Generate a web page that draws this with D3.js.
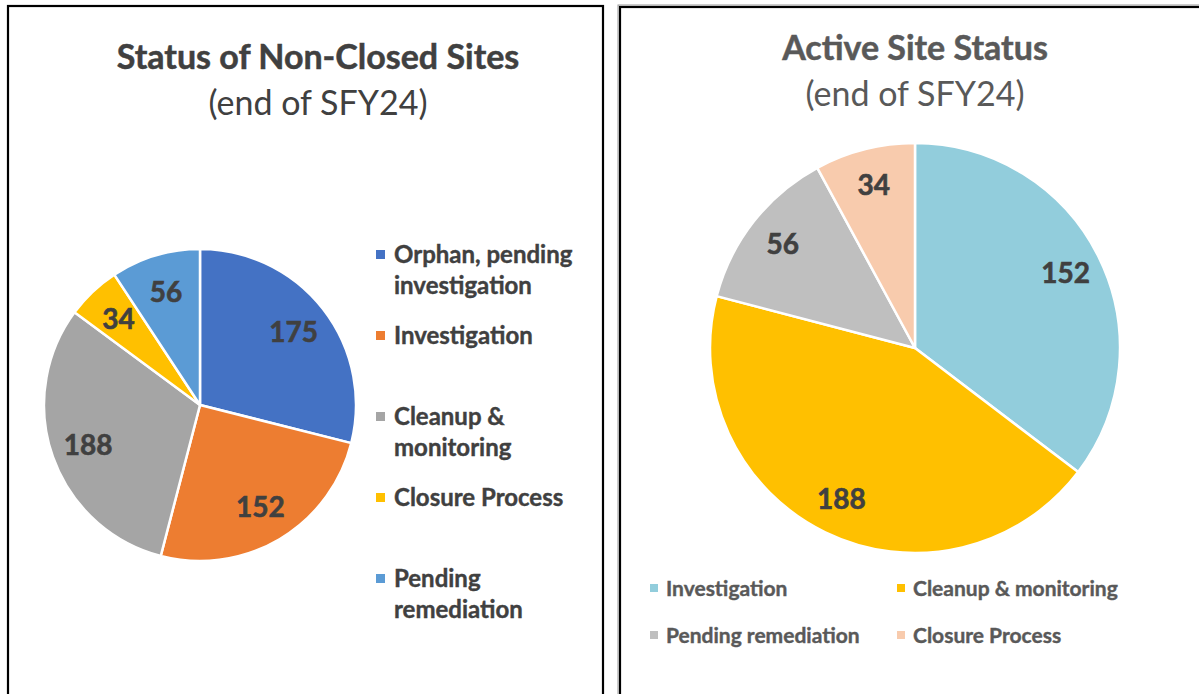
<!DOCTYPE html>
<html><head><meta charset="utf-8">
<script src="https://cdn.jsdelivr.net/npm/d3@7"></script>
<style>body{margin:0;background:#fff}svg{display:block}</style>
</head><body>
<svg id="c" width="1199" height="694"></svg>
<script>
// Left chart data
const leftCategories = ["Orphan, pending investigation","Investigation","Cleanup & monitoring","Closure Process","Pending remediation"];
const leftValues = [175,152,188,34,56];
const leftColors = ["#4472C4","#ED7D31","#A5A5A5","#FFC000","#5B9BD5"];
const leftLegendLines = [["Orphan, pending","investigation"],["Investigation"],["Cleanup &","monitoring"],["Closure Process"],["Pending","remediation"]];
// Right chart data
const rightCategories = ["Investigation","Cleanup & monitoring","Pending remediation","Closure Process"];
const rightValues = [152,188,56,34];
const rightColors = ["#92CDDC","#FFC000","#BFBFBF","#F8CBAD"];

const svg = d3.select("#c");
const font = "Lato, 'Open Sans', sans-serif";

// panel borders
svg.append("rect").attr("x",8).attr("y",6).attr("width",595).attr("height",700)
  .attr("fill","none").attr("stroke","#000").attr("stroke-width",2.2);
svg.append("rect").attr("x",618).attr("y",5).attr("width",600).attr("height",700)
  .attr("fill","none").attr("stroke","#999").attr("stroke-width",1);
svg.append("rect").attr("x",620).attr("y",7).attr("width",600).attr("height",700)
  .attr("fill","none").attr("stroke","#000").attr("stroke-width",2.2);

function heavy(sel, color, w){
  return sel.attr("fill",color).attr("stroke",color).attr("stroke-width",w).attr("paint-order","stroke");
}

function drawPie(g, values, colors, R, labelFrac, labelColor){
  const pie = d3.pie().sort(null).value(d=>d);
  const arc = d3.arc().innerRadius(0).outerRadius(R);
  const lab = d3.arc().innerRadius(R*labelFrac).outerRadius(R*labelFrac);
  const arcs = pie(values);
  g.selectAll("path").data(arcs).join("path")
    .attr("d",arc).attr("fill",(d,i)=>colors[i])
    .attr("stroke","#fff").attr("stroke-width",2.5).attr("stroke-linejoin","round");
  heavy(g.selectAll("text").data(arcs).join("text")
    .attr("transform",d=>`translate(${lab.centroid(d)})`)
    .attr("text-anchor","middle").attr("dy","0.36em")
    .attr("font-family",font).attr("font-weight","bold").attr("font-size",28)
    .text(d=>d.data), labelColor, 0.6);
}

// Left chart
heavy(svg.append("text").attr("x",318).attr("y",69).attr("text-anchor","middle")
  .attr("font-family",font).attr("font-weight","bold").attr("font-size",34)
  .text("Status of Non-Closed Sites"), "#404040", 0.5);
svg.append("text").attr("x",318).attr("y",115).attr("text-anchor","middle")
  .attr("font-family",font).attr("font-size",34).attr("fill","#404040")
  .text("(end of SFY24)");
drawPie(svg.append("g").attr("transform","translate(200,405)"), leftValues, leftColors, 156, 0.76, "#404040");

const legY = d3.scalePoint().domain(d3.range(leftCategories.length)).range([254.5,578.5]);
const lg = svg.append("g");
leftCategories.forEach((c,i)=>{
  const y = legY(i);
  lg.append("rect").attr("x",376).attr("y",y-4.5).attr("width",9).attr("height",9).attr("fill",leftColors[i]);
  leftLegendLines[i].forEach((t,j)=>{
    heavy(lg.append("text").attr("x",394).attr("y",y+j*31).attr("dy","0.36em")
      .attr("font-family",font).attr("font-weight","bold").attr("font-size",24).text(t), "#404040", 0.4);
  });
});

// Right chart
heavy(svg.append("text").attr("x",915).attr("y",60).attr("text-anchor","middle")
  .attr("font-family",font).attr("font-weight","bold").attr("font-size",34)
  .text("Active Site Status"), "#595959", 0.5);
svg.append("text").attr("x",915).attr("y",106).attr("text-anchor","middle")
  .attr("font-family",font).attr("font-size",34).attr("fill","#595959")
  .text("(end of SFY24)");
drawPie(svg.append("g").attr("transform","translate(915,348)"), rightValues, rightColors, 205, 0.82, "#404040");

const rg = svg.append("g");
rightCategories.forEach((c,i)=>{
  const col = i===0||i===2 ? 0 : 1;
  const row = i<2 ? 0 : 1;
  const x = col===0 ? 654 : 901;
  const y = row===0 ? 588 : 635;
  rg.append("rect").attr("x",x-4).attr("y",y-4).attr("width",8).attr("height",8).attr("fill",rightColors[i]);
  heavy(rg.append("text").attr("x",x+12).attr("y",y).attr("dy","0.36em")
    .attr("font-family",font).attr("font-weight","bold").attr("font-size",21).text(c), "#595959", 0.4);
});
</script>
</body></html>
